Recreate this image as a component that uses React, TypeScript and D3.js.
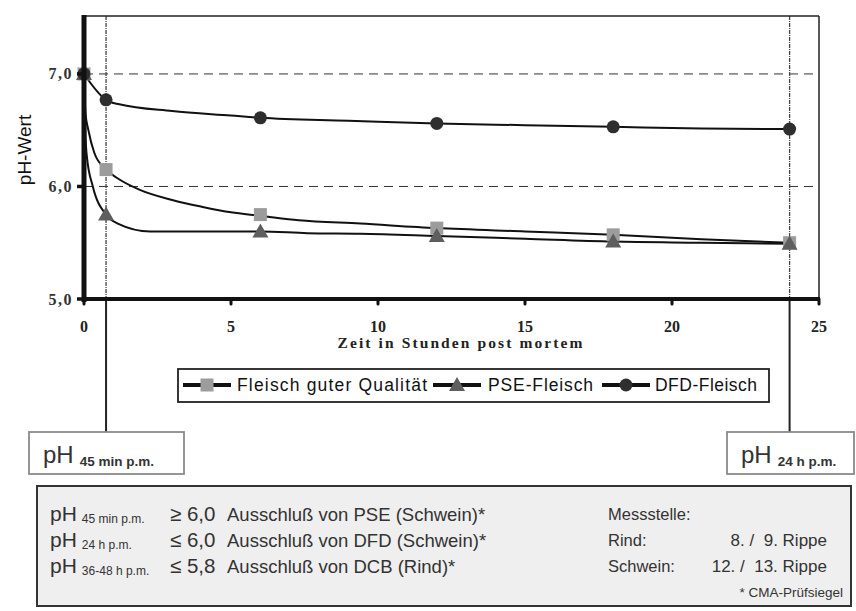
import React from "react";
import * as d3 from "d3";

// ---------- data ----------
const markerHours = [0, 0.75, 6, 12, 18, 24];
const goodMarkers = [7.0, 6.15, 5.75, 5.63, 5.57, 5.5];
const pseMarkers = [7.0, 5.75, 5.6, 5.56, 5.51, 5.49];
const dfdMarkers = [7.0, 6.77, 6.61, 6.56, 6.53, 6.51];

const goodLineX = [0, 0.05, 0.15, 0.35, 0.75, 1.1, 1.9, 3.0, 4.0, 5.0, 6.0, 7.3, 9.4, 12, 15, 18, 21, 24];
const goodLineY = [7.0, 6.65, 6.5, 6.3, 6.15, 6.08, 5.97, 5.88, 5.82, 5.77, 5.74, 5.7, 5.67, 5.63, 5.6, 5.57, 5.53, 5.5];
const pseLineX = [0, 0.05, 0.1, 0.3, 0.75, 1.15, 2.25, 5.0, 6.0, 7.6, 9.4, 12, 15, 18, 21, 24];
const pseLineY = [7.0, 6.45, 6.26, 6.0, 5.75, 5.67, 5.6, 5.6, 5.6, 5.585, 5.58, 5.56, 5.535, 5.51, 5.5, 5.49];
const dfdLineX = [0, 0.75, 1.2, 3.0, 5.0, 6.0, 9.0, 12, 15, 18, 21, 24];
const dfdLineY = [7.0, 6.77, 6.73, 6.67, 6.63, 6.61, 6.585, 6.56, 6.545, 6.53, 6.515, 6.51];

const seriesNames = ["Fleisch guter Qualität", "PSE-Fleisch", "DFD-Fleisch"];
const xTicks = [0, 5, 10, 15, 20, 25];
const yTicks = [5, 6, 7];
const yTickLabels = ["5,0", "6,0", "7,0"];
const gridValues = [6, 7];
const refHours = [0.75, 24];
const refMainLabel = ["pH", "pH"];
const refSubLabel = ["45 min p.m.", "24 h p.m."];

const infoSub = ["45 min p.m.", "24 h p.m.", "36-48 h p.m."];
const infoCmp = ["≥ 6,0", "≤ 6,0", "≤ 5,8"];
const infoText = ["Ausschluß von PSE (Schwein)*", "Ausschluß von DFD (Schwein)*", "Ausschluß von DCB (Rind)*"];
const messLabels = ["Messstelle:", "Rind:", "Schwein:"];
const messValues = ["", "8. /  9. Rippe", "12. /  13. Rippe"];
const footnote = "* CMA-Prüfsiegel";

const xTitle = "Zeit in Stunden post mortem";
const yTitle = "pH-Wert";

// ---------- layout ----------
const W = 856;
const H = 611;
const plot = { left: 84, right: 819, top: 16, bottom: 299 };

export default function App() {
  const x = d3.scaleLinear().domain([0, 25]).range([plot.left, plot.right]);
  const y = d3.scaleLinear().domain([5, 7.515]).range([plot.bottom, plot.top]);
  const line = d3
    .line<[number, number]>()
    .x((d) => x(d[0]))
    .y((d) => y(d[1]))
    .curve(d3.curveMonotoneX);

  const lines = [
    d3.zip(goodLineX, goodLineY) as [number, number][],
    d3.zip(pseLineX, pseLineY) as [number, number][],
    d3.zip(dfdLineX, dfdLineY) as [number, number][],
  ];
  const markers = [goodMarkers, pseMarkers, dfdMarkers];
  const markerColors = ["#9c9c9c", "#5e5e5e", "#2e2e2e"];

  const drawMarker = (kind: number, cx: number, cy: number, key: string) => {
    if (kind === 0)
      return <rect key={key} x={cx - 6.5} y={cy - 6.5} width={13} height={13} fill={markerColors[0]} />;
    if (kind === 1) {
      const s = 8;
      return (
        <path
          key={key}
          d={`M${cx},${cy - s}L${cx + s},${cy + s * 0.75}L${cx - s},${cy + s * 0.75}Z`}
          fill={markerColors[1]}
        />
      );
    }
    return <circle key={key} cx={cx} cy={cy} r={6.5} fill={markerColors[2]} />;
  };

  const serif = "'Liberation Serif', 'Times New Roman', serif";
  const sans = "'Liberation Sans', Arial, sans-serif";

  // legend item layout
  const legendItems = [
    { lx: 183, tx: 237, tl: 190 },
    { lx: 433, tx: 488, tl: 105 },
    { lx: 602, tx: 655, tl: 102 },
  ];

  const infoTop = 486;
  const rowBase = [521, 547, 573];

  return (
    <svg
      width={W}
      height={H}
      style={{ position: "absolute", left: 0, top: 0, background: "#fff" }}
    >
      {/* grid */}
      {gridValues.map((g) => (
        <line
          key={"g" + g}
          x1={plot.left}
          x2={plot.right}
          y1={y(g)}
          y2={y(g)}
          stroke="#333"
          strokeWidth={1}
          strokeDasharray="9,6"
        />
      ))}

      {/* reference vertical lines */}
      {refHours.map((h, i) => (
        <g key={"ref" + i}>
          <line
            x1={x(h)}
            x2={x(h)}
            y1={plot.top}
            y2={plot.bottom}
            stroke="#444"
            strokeWidth={1.3}
            strokeDasharray="4,1,1,1"
          />
          <line x1={x(h)} x2={x(h)} y1={plot.bottom} y2={432} stroke="#222" strokeWidth={2} />
        </g>
      ))}

      {/* frame top/right */}
      <line x1={plot.left} x2={plot.right} y1={plot.top} y2={plot.top} stroke="#222" strokeWidth={1.5} />
      <line x1={plot.right} x2={plot.right} y1={plot.top} y2={plot.bottom} stroke="#222" strokeWidth={1.5} />

      {/* lines */}
      {lines.map((l, i) => (
        <path key={"l" + i} d={line(l) || ""} fill="none" stroke="#111" strokeWidth={2} />
      ))}

      {/* markers */}
      {markers.map((m, si) =>
        m.map((v, j) => drawMarker(si, x(markerHours[j]), y(v), `m${si}-${j}`))
      )}

      {/* axes */}
      <line x1={plot.left} x2={plot.left} y1={plot.top - 1} y2={plot.bottom + 3} stroke="#111" strokeWidth={5} />
      <line x1={plot.left - 2} x2={plot.right + 1} y1={plot.bottom} y2={plot.bottom} stroke="#111" strokeWidth={4} />
      {yTicks.map((t, i) => (
        <g key={"yt" + t}>
          <line x1={plot.left - 7} x2={plot.left} y1={y(t)} y2={y(t)} stroke="#111" strokeWidth={3.5} />
          <text
            x={73}
            y={y(t) + 5.5}
            textAnchor="end"
            fontFamily={serif}
            fontWeight="bold"
            fontSize={16}
            letterSpacing={1.5}
            fill="#333"
          >
            {yTickLabels[i]}
          </text>
        </g>
      ))}
      {xTicks.map((t) => (
        <g key={"xt" + t}>
          <line x1={x(t)} x2={x(t)} y1={plot.bottom} y2={plot.bottom + 5} stroke="#111" strokeWidth={3} strokeLinecap="round" />
          <text
            x={x(t)}
            y={332}
            textAnchor="middle"
            fontFamily={serif}
            fontWeight="bold"
            fontSize={16}
            fill="#222"
          >
            {t}
          </text>
        </g>
      ))}

      {/* axis titles */}
      <text
        x={460}
        y={348}
        textAnchor="middle"
        fontFamily={serif}
        fontWeight="bold"
        fontSize={15.5}
        fill="#222"
        textLength={245}
        lengthAdjust="spacing"
      >
        {xTitle}
      </text>
      <text
        transform={`translate(31,150) rotate(-90)`}
        textAnchor="middle"
        fontFamily={sans}
        fontSize={19}
        fill="#111"
      >
        {yTitle}
      </text>

      {/* legend */}
      <rect x={178} y={369} width={591} height={33} fill="#fff" stroke="#222" strokeWidth={1.8} />
      {legendItems.map((it, i) => (
        <g key={"lg" + i}>
          <line x1={it.lx} x2={it.lx + 48} y1={385} y2={385} stroke="#111" strokeWidth={4} />
          {drawMarker(i, it.lx + 24, 385, "lgm" + i)}
          <text
            x={it.tx}
            y={391}
            fontFamily={sans}
            fontSize={17.5}
            fill="#111"
            textLength={it.tl}
            lengthAdjust="spacing"
          >
            {seriesNames[i]}
          </text>
        </g>
      ))}

      {/* reference label boxes */}
      {refHours.map((h, i) => {
        const bx = i === 0 ? 29 : 727;
        const bw = i === 0 ? 155 : 127;
        return (
          <g key={"rb" + i}>
            <rect x={bx} y={432} width={bw} height={42} fill="#fff" stroke="#8a8a8a" strokeWidth={1.8} />
            <text x={bx + 14} y={463} fontFamily={sans} fontSize={24} fill="#333">
              {refMainLabel[i]}
              <tspan dx={6} dy={3} fontSize={13.5} fontWeight="bold">
                {refSubLabel[i]}
              </tspan>
            </text>
          </g>
        );
      })}

      {/* info box */}
      <rect x={37} y={infoTop} width={814} height={120} fill="#efefef" stroke="#333" strokeWidth={2} />
      {infoSub.map((s, i) => (
        <g key={"ir" + i}>
          <text x={50} y={rowBase[i]} fontFamily={sans} fontSize={21} fill="#333">
            pH
            <tspan dx={5} dy={2} fontSize={12}>
              {s}
            </tspan>
          </text>
          <text x={170} y={rowBase[i]} fontFamily={sans} fontSize={20.5} fill="#333">
            {infoCmp[i]}
          </text>
          <text x={227} y={rowBase[i]} fontFamily={sans} fontSize={18.5} fill="#333">
            {infoText[i]}
          </text>
          <text x={608} y={rowBase[i] - 1} fontFamily={sans} fontSize={16.5} fill="#333">
            {messLabels[i]}
          </text>
          {messValues[i] && (
            <text x={827} y={rowBase[i] - 1} textAnchor="end" fontFamily={sans} fontSize={17} fill="#333" xmlSpace="preserve" style={{ whiteSpace: "pre" }}>
              {messValues[i]}
            </text>
          )}
        </g>
      ))}
      <text x={843} y={597} textAnchor="end" fontFamily={sans} fontSize={13.5} fill="#333">
        {footnote}
      </text>
    </svg>
  );
}
